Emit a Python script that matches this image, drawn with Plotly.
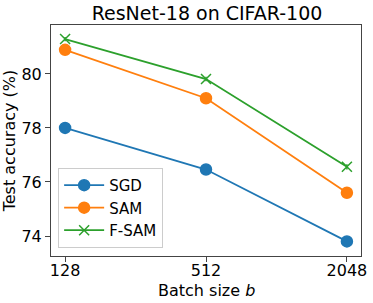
import plotly.graph_objects as go
import math

batch = [128, 512, 2048]
sgd = [78.0, 76.46, 73.8]
sgd_err = [0.08, 0.08, 0.1]
sam = [80.89, 79.1, 75.6]
sam_err = [0.1, 0.1, 0.15]
fsam = [81.29, 79.81, 76.56]
fsam_err = [0.08, 0.08, 0.1]

colors = ["#1f77b4", "#ff7f0e", "#2ca02c"]

fig = go.Figure()
for name, vals, err, col, sym in [
    ("SGD", sgd, sgd_err, colors[0], "circle"),
    ("SAM", sam, sam_err, colors[1], "circle"),
    ("F-SAM", fsam, fsam_err, colors[2], "x-thin"),
]:
    fig.add_trace(go.Scatter(
        x=batch, y=vals, name=name, mode="lines+markers",
        line=dict(color=col, width=1.8),
        marker=dict(symbol=sym, size=11 if sym == "circle" else 10, color=col,
                    line=dict(color=col, width=1.5)),
        error_y=dict(type="data", array=err, color=col, thickness=1.5, width=0),
    ))

lo = math.log10(2) * 6.8
hi = math.log10(2) * 11.2
fig.update_layout(
    width=373, height=303,
    margin=dict(l=51, r=12, t=25, b=47),
    paper_bgcolor="white", plot_bgcolor="white",
    font=dict(family="DejaVu Sans", size=16, color="black"),
    title=dict(text="ResNet-18 on CIFAR-100", x=0.555, xanchor="center",
               y=0.955, yanchor="middle", font=dict(size=19)),
    showlegend=True,
    legend=dict(x=0.023, y=0.035, xanchor="left", yanchor="bottom",
                bgcolor="rgba(255,255,255,0.8)", bordercolor="#cccccc", borderwidth=1,
                font=dict(size=15), itemwidth=40),
    xaxis=dict(type="log", range=[lo, hi], tickvals=batch, ticktext=[str(b) for b in batch],
               automargin=False, tickfont=dict(size=16), ticklabelstandoff=-5,
               showgrid=False, zeroline=False, showline=True, mirror=True,
               linecolor="#444444", linewidth=1, ticks="outside", ticklen=5,
               tickcolor="#444444"),
    yaxis=dict(range=[73.26, 81.81], tickvals=[74, 76, 78, 80],
               automargin=False, tickfont=dict(size=16),
               showgrid=False, zeroline=False, showline=True, mirror=True,
               linecolor="#444444", linewidth=1, ticks="outside", ticklen=5,
               tickcolor="#444444", title=dict(text="Test accuracy (%)", standoff=4,
                                               font=dict(size=16))),
    annotations=[dict(text="Batch size <i>b</i>", xref="paper", yref="paper",
                      x=0.5, y=-0.148, xanchor="center", yanchor="middle",
                      showarrow=False, font=dict(size=16))],
)
fig.write_html("out.html", config={"displayModeBar": False},
               post_script="document.body.style.margin='0';document.body.style.padding='0';")
